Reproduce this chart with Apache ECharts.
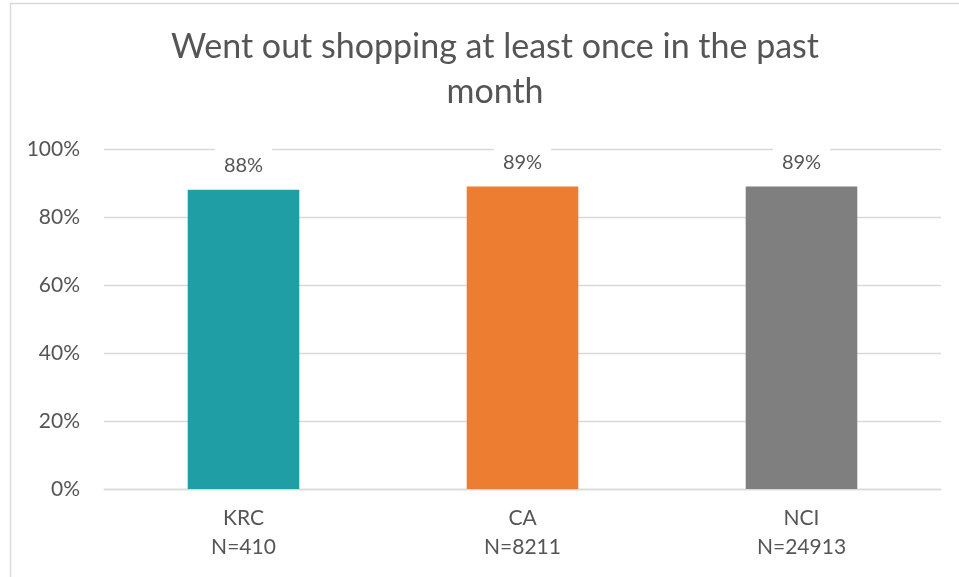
<!DOCTYPE html>
<html>
<head>
<meta charset="utf-8">
<script src="https://cdn.jsdelivr.net/npm/echarts@6/dist/echarts.min.js"></script>
<style>
  html, body { margin: 0; padding: 0; background: #fff; }
  #chart { width: 959px; height: 577px; }
</style>
</head>
<body>
<div id="chart"></div>
<script>
const titleText = "Went out shopping at least once in the past\nmonth";
const categories = ["KRC\nN=410", "CA\nN=8211", "NCI\nN=24913"];
const values = [88, 89, 89];
const barColors = ["#209EA6", "#ED7D31", "#7F7F7F"];

const textColor = "#555555";
const font = "Lato";

const chart = echarts.init(document.getElementById("chart"));

const option = {
  animation: false,
  backgroundColor: "#fff",
  textStyle: { fontFamily: font },
  graphic: [
    {
      type: "rect",
      silent: true,
      shape: { x: 10.5, y: 3.5, width: 1000, height: 700 },
      style: { fill: "none", stroke: "#d9d9d9", lineWidth: 1.5 }
    }
  ],
  title: {
    text: titleText,
    left: 490,
    top: 20,
    textAlign: "center",
    textStyle: {
      fontFamily: font,
      fontSize: 34,
      fontWeight: "normal",
      color: textColor,
      lineHeight: 45
    }
  },
  grid: {
    left: 104,
    right: 18,
    top: 149,
    bottom: 88,
    containLabel: false
  },
  xAxis: {
    type: "category",
    data: categories,
    axisLine: { lineStyle: { color: "#d9d9d9", width: 1.3 } },
    axisTick: { show: false },
    axisLabel: {
      color: textColor,
      fontFamily: font,
      fontSize: 21,
      lineHeight: 29,
      margin: 15
    }
  },
  yAxis: {
    type: "value",
    min: 0,
    max: 100,
    interval: 20,
    axisLine: { show: false },
    axisTick: { show: false },
    splitLine: { lineStyle: { color: "#d9d9d9", width: 1.3 } },
    axisLabel: {
      color: textColor,
      fontFamily: font,
      fontSize: 21,
      margin: 24,
      formatter: "{value}%"
    }
  },
  series: [
    {
      type: "bar",
      barWidth: "40%",
      data: values.map((v, i) => ({ value: v, itemStyle: { color: barColors[i] } })),
      label: {
        show: true,
        position: "top",
        distance: 11,
        formatter: "{c}%",
        color: textColor,
        fontFamily: font,
        fontSize: 20,
        backgroundColor: "#fff",
        padding: [8, 9, 3, 9]
      }
    }
  ]
};

chart.setOption(option);
</script>
</body>
</html>
